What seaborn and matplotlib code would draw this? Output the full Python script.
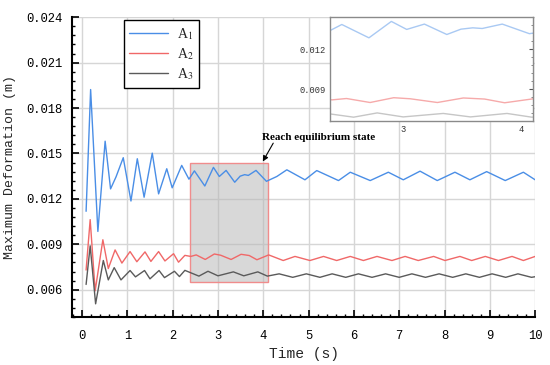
import matplotlib
matplotlib.use("Agg")
import matplotlib.pyplot as plt
import seaborn as sns
import pandas as pd
from matplotlib.patches import Rectangle
from matplotlib.ticker import MultipleLocator, FuncFormatter

# ---------------- data ----------------
t_a1 = [0.09, 0.19, 0.35, 0.51, 0.63, 0.75, 0.91, 1.08, 1.22, 1.37,
        1.55, 1.69, 1.87, 1.99, 2.20, 2.36, 2.48, 2.71, 2.90, 3.03,
        3.18, 3.37, 3.49, 3.59, 3.67, 3.84, 4.07, 4.30, 4.52, 4.92,
        5.18, 5.66, 5.92, 6.36, 6.76, 7.09, 7.46, 7.84, 8.23, 8.56,
        8.93, 9.34, 9.74, 10.0]
v_a1 = [0.01118, 0.01922, 0.00985, 0.01581, 0.01266, 0.01345, 0.01472, 0.01186, 0.01465, 0.01211,
        0.01502, 0.01233, 0.01399, 0.01273, 0.01421, 0.01330, 0.01385, 0.01285, 0.01408, 0.01348,
        0.01388, 0.01310, 0.01350, 0.01360, 0.01355, 0.01388, 0.01316, 0.01348, 0.01392, 0.01326,
        0.01387, 0.01321, 0.01376, 0.01321, 0.01376, 0.01326, 0.01383, 0.01321, 0.01376, 0.01326,
        0.01380, 0.01321, 0.01376, 0.01326]

t_a2 = [0.09, 0.18, 0.29, 0.46, 0.58, 0.73, 0.88, 1.06, 1.21, 1.39,
        1.52, 1.69, 1.83, 2.02, 2.13, 2.27, 2.40, 2.52, 2.72, 2.92,
        3.06, 3.29, 3.51, 3.69, 3.86, 4.12, 4.44, 4.70, 5.03, 5.33,
        5.62, 5.92, 6.21, 6.51, 6.84, 7.13, 7.42, 7.76, 8.01, 8.34,
        8.60, 8.90, 9.19, 9.49, 9.74, 10.0]
v_a2 = [0.00730, 0.01063, 0.00593, 0.00930, 0.00740, 0.00863, 0.00776, 0.00852, 0.00785, 0.00850,
        0.00787, 0.00852, 0.00790, 0.00838, 0.00782, 0.00827, 0.00820, 0.00830, 0.00800, 0.00836,
        0.00828, 0.00800, 0.00834, 0.00826, 0.00798, 0.00830, 0.00793, 0.00820, 0.00793, 0.00820,
        0.00793, 0.00820, 0.00793, 0.00820, 0.00793, 0.00820, 0.00793, 0.00820, 0.00793, 0.00820,
        0.00793, 0.00820, 0.00793, 0.00820, 0.00793, 0.00820]

t_a3 = [0.09, 0.18, 0.30, 0.47, 0.58, 0.71, 0.86, 1.06, 1.18, 1.38,
        1.50, 1.70, 1.82, 2.04, 2.15, 2.27, 2.40, 2.58, 2.78, 3.00,
        3.34, 3.57, 3.88, 4.09, 4.35, 4.65, 4.95, 5.25, 5.52, 5.82,
        6.10, 6.40, 6.70, 7.00, 7.28, 7.58, 7.88, 8.18, 8.47, 8.77,
        9.05, 9.35, 9.62, 9.92, 10.0]
v_a3 = [0.00635, 0.00890, 0.00507, 0.00793, 0.00665, 0.00746, 0.00665, 0.00727, 0.00685, 0.00727,
        0.00672, 0.00727, 0.00680, 0.00722, 0.00687, 0.00728, 0.00712, 0.00690, 0.00722, 0.00692,
        0.00718, 0.00692, 0.00718, 0.00690, 0.00705, 0.00682, 0.00705, 0.00682, 0.00705, 0.00682,
        0.00705, 0.00682, 0.00705, 0.00682, 0.00705, 0.00682, 0.00705, 0.00682, 0.00705, 0.00682,
        0.00705, 0.00682, 0.00705, 0.00682, 0.00686]

series_labels = ["A$_1$", "A$_2$", "A$_3$"]
annotation_text = "Reach equilibrium state"
x_label = "Time (s)"
y_label = "Maximum Deformation (m)"

# ---------------- styling ----------------
sns.set_style("white")
plt.rcParams["font.family"] = ["Liberation Mono", "DejaVu Sans"]
plt.rcParams["mathtext.fontset"] = "stix"

colors = ["#4a8ee6", "#f06868", "#5a5a5a"]
inset_colors = ["#a9c9f3", "#f6aaaa", "#c6c6c6"]

series = [(t_a1, v_a1), (t_a2, v_a2), (t_a3, v_a3)]
frames = [pd.DataFrame({"t": t, "v": v}) for t, v in series]

fig = plt.figure(figsize=(5.5, 3.65), dpi=100)
ax = fig.add_axes([0.131, 0.1315, 0.842, 0.8215])

ax.set_axisbelow(True)
ax.grid(True, which="major", color="#d6d6d6", lw=1.0)

for df, c, lab in zip(frames, colors, series_labels):
    sns.lineplot(data=df, x="t", y="v", ax=ax, color=c, lw=1.0, label=lab,
                 sort=False, estimator=None, zorder=3)

# highlighted equilibrium region
ax.add_patch(Rectangle((2.38, 0.0065), 4.1 - 2.38, 0.01434 - 0.0065,
                       facecolor=(0.72, 0.72, 0.72, 0.55), edgecolor="#f08c8c",
                       lw=1.0, zorder=2))

ax.set_xlim(-0.22, 10)
ax.set_ylim(0.0042, 0.024)
ax.xaxis.set_major_locator(MultipleLocator(1))
ax.xaxis.set_minor_locator(MultipleLocator(0.2))
ax.yaxis.set_major_locator(MultipleLocator(0.003))
ax.yaxis.set_minor_locator(MultipleLocator(0.0006))
ax.yaxis.set_major_formatter(FuncFormatter(lambda v, p: f"{v:.3f}"))
ax.xaxis.set_major_formatter(FuncFormatter(lambda v, p: f"{v:.0f}"))

for s in ["top", "right"]:
    ax.spines[s].set_visible(False)
for s in ["left", "bottom"]:
    ax.spines[s].set_color("black")
    ax.spines[s].set_linewidth(1.5)

ax.tick_params(which="major", direction="in", length=5, width=1.2, labelsize=8.7,
               colors="black")
ax.tick_params(axis="y", which="major", pad=7)
ax.tick_params(axis="x", which="major", pad=9)
ax.tick_params(which="minor", direction="in", length=2.5, width=1.0, colors="black")
ax.tick_params(axis="x", which="both", bottom=True)
ax.tick_params(axis="y", which="both", left=True)

ax.set_xlabel(x_label, fontsize=10.5, labelpad=4)
ax.set_ylabel(y_label, fontsize=9.5, labelpad=7)

# annotation
ax.annotate("", xy=(3.99, 0.01447), xytext=(4.22, 0.01568),
            arrowprops=dict(arrowstyle="-|>", color="black", lw=0.8,
                            mutation_scale=8, shrinkA=0, shrinkB=0))
ax.text(3.98, 0.01592, annotation_text, fontsize=8, fontweight="bold",
        family=["Liberation Serif"], ha="left", va="baseline", color="black")

leg = ax.legend(loc="upper left", bbox_to_anchor=(0.112, 0.99), frameon=True,
                fancybox=False, edgecolor="black", framealpha=1,
                prop={"family": "Liberation Serif", "size": 10},
                handlelength=2.8, labelspacing=0.32, borderpad=0.4,
                handletextpad=0.6, borderaxespad=0)
leg.get_frame().set_linewidth(1.0)

# ---------------- inset ----------------
ins = fig.add_axes([0.6, 0.668, 0.369, 0.285])
for df, c in zip(frames, inset_colors):
    sns.lineplot(data=df, x="t", y="v", ax=ins, color=c, lw=1.0,
                 sort=False, estimator=None, legend=False)
ins.set_xlim(2.38, 4.1)
ins.set_ylim(0.0066, 0.0144)
ins.xaxis.set_major_locator(MultipleLocator(1))
ins.xaxis.set_minor_locator(MultipleLocator(0.2))
ins.yaxis.set_major_locator(MultipleLocator(0.003))
ins.yaxis.set_minor_locator(MultipleLocator(0.0006))
ins.yaxis.set_major_formatter(FuncFormatter(lambda v, p: f"{v:.3f}"))
ins.xaxis.set_major_formatter(FuncFormatter(lambda v, p: f"{v:.0f}"))
ins.set_xlabel("")
ins.set_ylabel("")
for s in ins.spines.values():
    s.set_color("#8a8a8a")
    s.set_linewidth(1.0)
ins.tick_params(which="major", direction="in", length=3, width=0.8, labelsize=6.3,
                colors="#555555", labelcolor="#333333", right=True, pad=3)
ins.tick_params(which="minor", direction="in", length=1.5, width=0.6,
                colors="#777777", right=True)
ins.grid(False)

fig.savefig("out.png", dpi=100)
